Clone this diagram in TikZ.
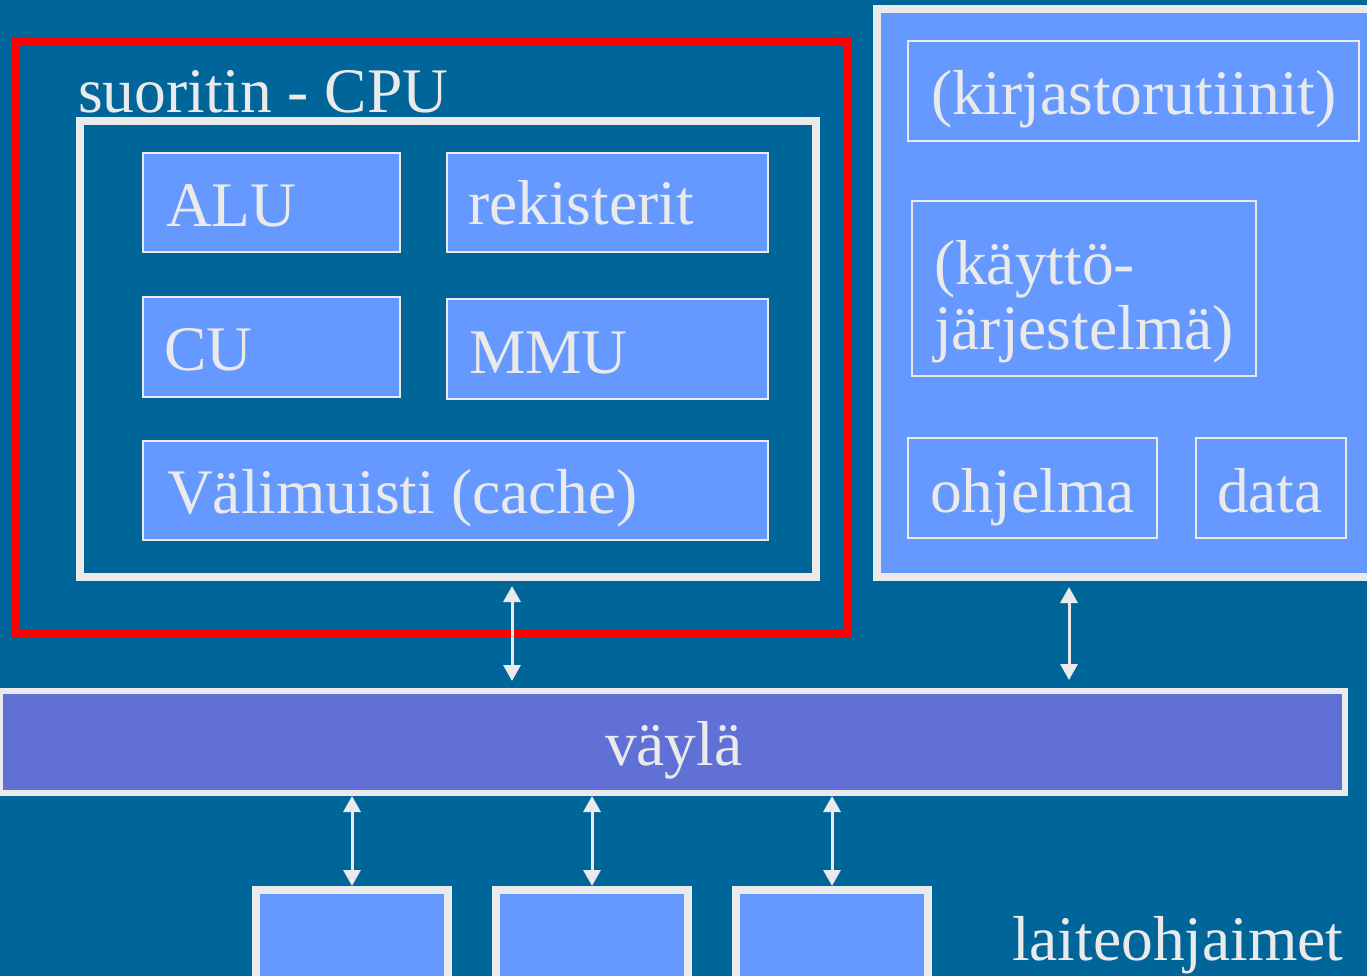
\documentclass[tikz,border=0pt]{standalone}
\usepackage{fontspec}
\setmainfont{Liberation Serif}
\usetikzlibrary{arrows.meta}
\definecolor{bg}{RGB}{0,102,153}
\definecolor{fg}{RGB}{234,234,234}
\definecolor{unit}{RGB}{102,153,255}
\definecolor{busc}{RGB}{96,112,212}
\definecolor{hilite}{RGB}{255,0,0}
\begin{document}
\begin{tikzpicture}[x=1pt,y=-1pt,
  block/.style={rectangle, inner sep=0pt, outer sep=0pt, anchor=north west},
  unitbox/.style={block, draw=fg, line width=2pt, fill=unit},
  heavybox/.style={block, draw=fg, line width=8pt},
  lbl/.style={text=fg, font=\fontsize{63.5}{70}\selectfont, inner sep=0pt, outer sep=0pt, anchor=base west},
  biarrow/.style={draw=fg, line width=3pt, {Triangle[width=17pt,length=16pt]}-{Triangle[width=17pt,length=16pt]}},
]
\useasboundingbox (0,0) rectangle (1367,976);
\fill[bg] (0,0) rectangle (1367,976);
\clip (0,0) rectangle (1367,976);

% processor
\node[heavybox, minimum width=736pt, minimum height=456pt] (cpu) at (80,121) {};
\node[lbl] (cpulbl) at (78,113) {suoritin - CPU};
\node[unitbox, minimum width=257pt, minimum height=99pt] (alu) at (143,153) {};
\node[lbl] (alulbl) at (166,227) {ALU};
\node[unitbox, minimum width=321pt, minimum height=99pt] (reg) at (447,153) {};
\node[lbl] (reglbl) at (468,225) {rekisterit};
\node[unitbox, minimum width=257pt, minimum height=100pt] (cu) at (143,297) {};
\node[lbl] (culbl) at (164,370) {CU};
\node[unitbox, minimum width=321pt, minimum height=100pt] (mmu) at (447,299) {};
\node[lbl] (mmulbl) at (469,373) {MMU};
\node[unitbox, minimum width=625pt, minimum height=99pt] (cache) at (143,441) {};
\node[lbl] (cachelbl) at (167,513) {Välimuisti (cache)};
\node[block, draw=hilite, line width=8pt, minimum width=831pt, minimum height=592pt] (frame) at (16,41) {};

% memory
\node[heavybox, fill=unit, minimum width=520pt, minimum height=568pt] (mem) at (877,9) {};
\node[unitbox, minimum width=451pt, minimum height=100pt] (lib) at (908,41) {};
\node[lbl] (liblbl) at (931,115) {(kirjastorutiinit)};
\node[unitbox, minimum width=344pt, minimum height=175pt] (os) at (912,201) {};
\node[lbl] (oslbla) at (934,284) {(käyttö-};
\node[lbl] (oslblb) at (934,349) {järjestelmä)};
\node[unitbox, minimum width=249pt, minimum height=100pt] (prog) at (908,438) {};
\node[lbl] (proglbl) at (930,512) {ohjelma};
\node[unitbox, minimum width=150pt, minimum height=100pt] (data) at (1196,438) {};
\node[lbl] (datalbl) at (1217,512) {data};

% bus
\node[block, draw=fg, fill=busc, line width=6pt, minimum width=1345pt, minimum height=102pt] (bus) at (0,691) {};
\node[lbl] (buslbl) at (605,765) {väylä};

% device controllers
\node[heavybox, fill=unit, minimum width=192pt, minimum height=120pt] (d1) at (256,890) {};
\node[heavybox, fill=unit, minimum width=192pt, minimum height=120pt] (d2) at (496,890) {};
\node[heavybox, fill=unit, minimum width=192pt, minimum height=120pt] (d3) at (736,890) {};
\node[lbl] (devlbl) at (1012,960) {laiteohjaimet};

% connections
\coordinate (c1) at (512,0);
\coordinate (c2) at (1069,0);
\draw[biarrow, shorten <=9pt, shorten >=10pt] (c1 |- cpu.south) -- (c1 |- bus.north);
\draw[biarrow, shorten <=10pt, shorten >=11pt] (c2 |- mem.south) -- (c2 |- bus.north);
\foreach \d in {d1,d2,d3}
  \draw[biarrow, shorten <=3pt, shorten >=4pt] (bus.south -| \d.north) -- (\d.north);
\end{tikzpicture}
\end{document}
